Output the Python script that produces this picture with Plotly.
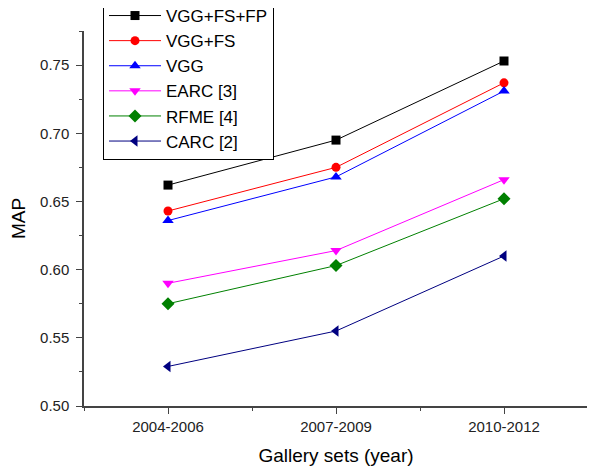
import plotly.graph_objects as go

categories = ["2004-2006", "2007-2009", "2010-2012"]
series_names = ["VGG+FS+FP", "VGG+FS", "VGG", "EARC [3]", "RFME [4]", "CARC [2]"]
vgg_fs_fp = [0.662, 0.695, 0.753]
vgg_fs = [0.643, 0.675, 0.737]
vgg = [0.636, 0.668, 0.731]
earc = [0.590, 0.614, 0.666]
rfme = [0.575, 0.603, 0.652]
carc = [0.529, 0.555, 0.610]
y_ticks = [0.50, 0.55, 0.60, 0.65, 0.70, 0.75]

series_values = [vgg_fs_fp, vgg_fs, vgg, earc, rfme, carc]
colors = ["#000000", "#ff0000", "#0000ff", "#ff00ff", "#008000", "#000080"]
symbols = ["square", "circle", "triangle-up", "triangle-down", "diamond", "triangle-left"]
sizes = [9, 9, 10, 10, 10, 10]

x_idx = list(range(len(categories)))

fig = go.Figure()
for name, vals, c, s, sz in zip(series_names, series_values, colors, symbols, sizes):
    fig.add_trace(go.Scatter(
        x=x_idx, y=vals, name=name, mode="lines+markers",
        line=dict(color=c, width=1),
        marker=dict(color=c, symbol=s, size=sz),
    ))

axis_font = dict(family="Arial, Liberation Sans", size=15, color="#222222")
title_font = dict(family="Arial, Liberation Sans", size=19, color="#000000")
fig.update_layout(
    width=587, height=462,
    margin=dict(l=76, r=7, t=23, b=64, autoexpand=False),
    paper_bgcolor="white", plot_bgcolor="white",
    font=dict(family="Arial, Liberation Sans", color="#000000"),
    showlegend=True,
    legend=dict(
        x=0.0377, y=1.0907, xanchor="left", yanchor="top",
        bordercolor="#000000", borderwidth=1, bgcolor="white",
        font=dict(family="Arial, Liberation Sans", size=17, color="#000000"),
        tracegroupgap=0, itemwidth=52,
    ),
    xaxis=dict(
        range=[-0.5, 2.5], tickvals=x_idx, ticktext=categories,
        showgrid=False, zeroline=False,
        showline=True, linecolor="#444444", linewidth=1.5,
        ticks="outside", ticklen=6, tickcolor="#444444",
        minor=dict(dtick=0.5, tick0=0, ticks="outside", ticklen=3, tickcolor="#444444", showgrid=False),
        tickfont=axis_font,
        title=dict(text="Gallery sets (year)", font=title_font, standoff=15),
    ),
    yaxis=dict(
        range=[0.5, 0.775], tickvals=y_ticks, tickformat=".2f",
        showgrid=False, zeroline=False,
        showline=True, linecolor="#444444", linewidth=1.5,
        ticks="outside", ticklen=6, tickcolor="#444444", ticklabelstandoff=4,
        minor=dict(dtick=0.025, tick0=0.5, ticks="outside", ticklen=3, tickcolor="#444444", showgrid=False),
        tickfont=axis_font,
        title=dict(text="MAP", font=title_font, standoff=12),
    ),
)

fig.write_html("out.html")
